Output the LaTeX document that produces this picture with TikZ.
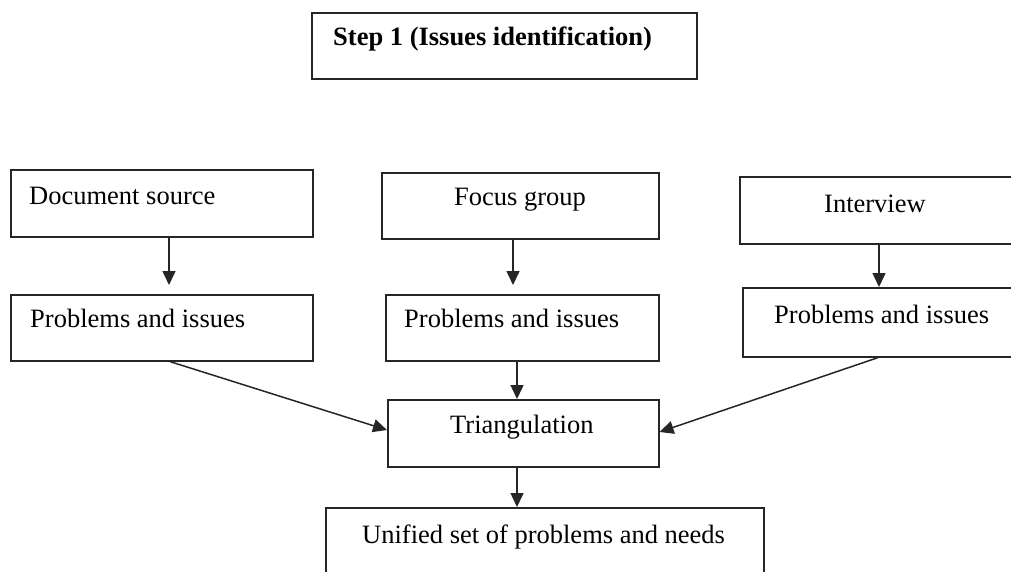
\documentclass[tikz,border=0pt]{standalone}
\usepackage{fontspec}
\setmainfont{Liberation Serif}
\usetikzlibrary{arrows.meta}
\begin{document}
\begin{tikzpicture}[x=1pt,y=-1pt,
  box/.style={draw=black!85, line width=1.6pt, rectangle, inner sep=0pt, anchor=north west},
  lbl/.style={inner sep=0pt, anchor=base west, font=\fontsize{26.5}{30}\selectfont},
  arr/.style={draw=black!85, line width=1.5pt, -{Triangle[length=14pt,width=13pt]}}]
\useasboundingbox (0,0) rectangle (1011,571);
\begin{scope}
\clip (0,0) rectangle (1011,571);
% title box
\node[box, minimum width=385pt, minimum height=66pt] (step) at (311,12) {};
% sources
\node[box, minimum width=302pt, minimum height=67pt] (ds) at (10,169) {};
\node[box, minimum width=277pt, minimum height=66pt] (fg) at (381,172) {};
\node[box, minimum width=280pt, minimum height=67pt] (iv) at (739,176) {};
% problems and issues
\node[box, minimum width=302pt, minimum height=66pt] (dp) at (10,294) {};
\node[box, minimum width=273pt, minimum height=66pt] (fp) at (385,294) {};
\node[box, minimum width=280pt, minimum height=69pt] (ip) at (742,287) {};
% merge
\node[box, minimum width=271pt, minimum height=67pt] (tri) at (387,399) {};
\node[box, minimum width=438pt, minimum height=90pt] (uni) at (325,507) {};
\end{scope}
% texts
\node[lbl, font=\fontsize{26.5}{30}\selectfont\bfseries] (stept) at (333,45) {Step 1 (Issues identification)};
\node[lbl] (dst) at (29,204) {Document source};
\node[lbl] (fgt) at (454,205) {Focus group};
\node[lbl] (ivt) at (824,212) {Interview};
\node[lbl] (dpt) at (30,327) {Problems and issues};
\node[lbl] (fpt) at (404,327) {Problems and issues};
\node[lbl] (ipt) at (774,323) {Problems and issues};
\node[lbl] (trit) at (450,433) {Triangulation};
\node[lbl] (unit) at (362,543) {Unified set of problems and needs};
% connector positions
\coordinate (xa) at (169,0);
\coordinate (xb) at (513,0);
\coordinate (xc) at (879,0);
\coordinate (xd) at (517,0);
\coordinate (tl) at (0,430);
\coordinate (tr) at (0,432);
\coordinate (xe) at (170,0);
\coordinate (xf) at (878,0);
% connectors
\draw[arr, shorten >=9pt] (ds.south -| xa) -- (dp.north -| xa);
\draw[arr, shorten >=9pt] (fg.south -| xb) -- (fp.north -| xb);
\draw[arr] (iv.south -| xc) -- (ip.north -| xc);
\draw[arr] (fp.south -| xd) -- (tri.north -| xd);
\draw[arr] (tri.south -| xd) -- (uni.north -| xd);
\draw[arr] (dp.south -| xe) -- (tri.west |- tl);
\draw[arr] (ip.south -| xf) -- (tri.east |- tr);
\end{tikzpicture}
\end{document}
